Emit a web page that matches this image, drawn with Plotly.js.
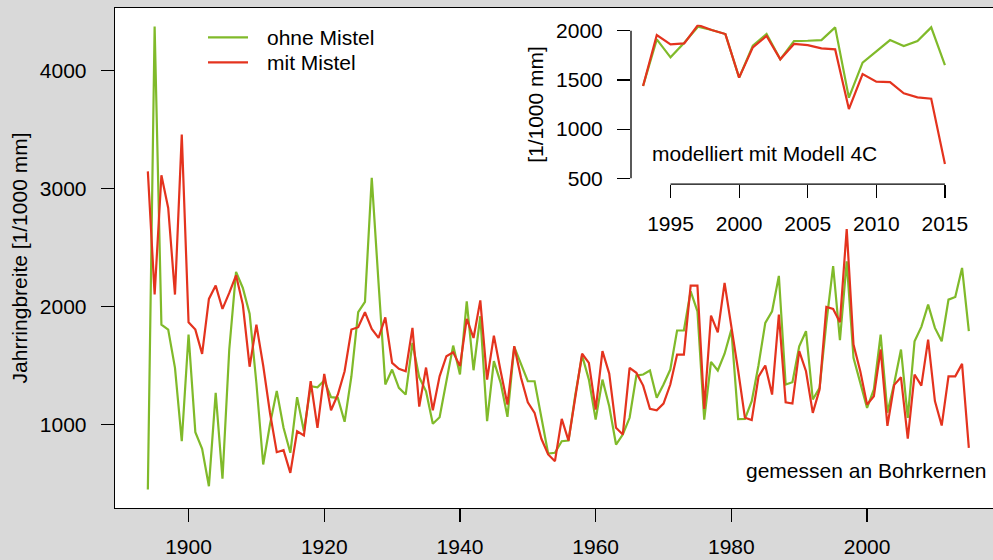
<!DOCTYPE html>
<html>
<head>
<meta charset="utf-8">
<script src="https://cdn.plot.ly/plotly-3.0.1.min.js"></script>
<style>html,body{margin:0;padding:0;background:#d9d9d9;}#chart{width:993px;height:560px;}</style>
</head>
<body>
<div id="chart"></div>
<script>
// ---- data: measured (Bohrkerne) ----
const years = [1894,1895,1896,1897,1898,1899,1900,1901,1902,1903,
1904,1905,1906,1907,1908,1909,1910,1911,1912,1913,
1914,1915,1916,1917,1918,1919,1920,1921,1922,1923,
1924,1925,1926,1927,1928,1929,1930,1931,1932,1933,
1934,1935,1936,1937,1938,1939,1940,1941,1942,1943,
1944,1945,1946,1947,1948,1949,1950,1951,1952,1953,
1954,1955,1956,1957,1958,1959,1960,1961,1962,1963,
1964,1965,1966,1967,1968,1969,1970,1971,1972,1973,
1974,1975,1976,1977,1978,1979,1980,1981,1982,1983,
1984,1985,1986,1987,1988,1989,1990,1991,1992,1993,
1994,1995,1996,1997,1998,1999,2000,2001,2002,2003,
2004,2005,2006,2007,2008,2009,2010,2011,2012,2013,
2014,2015];
const ohneMistel = [449,4375,1847,1805,1480,858,1763,935,794,477,
1268,540,1636,2294,2158,1940,1350,661,1000,1285,
972,760,1232,943,1325,1316,1373,1232,1226,1023,
1409,1952,2040,3091,2200,1339,1466,1311,1254,1692,
1400,1282,1006,1062,1367,1669,1424,2045,1460,1918,
1028,1537,1353,1065,1658,1508,1367,1367,1057,754,
760,858,864,1250,1585,1381,1042,1381,1155,830,
915,1057,1415,1424,1458,1226,1339,1466,1797,1797,
2130,1960,1042,1531,1458,1600,1805,1045,1048,1198,
1503,1862,1960,2260,1339,1359,1664,1791,1212,1311,
1862,2343,1715,2384,1565,1353,1141,1297,1763,1100,
1350,1636,1057,1706,1828,2017,1819,1706,2059,2082,
2328,1791];
const mitMistel = [3147,2102,3113,2836,2102,3458,1867,1805,1599,2065,
2178,1980,2116,2265,2017,1490,1847,1500,1100,765,
782,590,943,907,1367,972,1429,1121,1254,1452,
1805,1825,1952,1811,1734,1909,1522,1472,1452,1819,
1152,1483,1121,1409,1579,1613,1495,1896,1734,2053,
1381,1754,1452,1169,1664,1396,1189,1099,879,746,
689,1048,864,1250,1600,1522,1127,1622,1432,972,
915,1480,1438,1330,1133,1121,1178,1339,1593,1593,
2178,2178,1133,1924,1782,2201,1845,1458,1057,1037,
1405,1500,1254,1932,1189,1178,1622,1452,1099,1297,
1997,1980,1867,2658,1678,1452,1169,1240,1636,988,
1336,1400,880,1424,1330,1720,1198,991,1409,1409,
1514,802];

// ---- data: modelled (4C) ----
const modelYears = [1993,1994,1995,1996,1997,1998,1999,2000,2001,2002,2003,2004,
2005,2006,2007,2008,2009,2010,2011,2012,2013,2014,2015];
const modelOhne = [1438,1912,1729,1878,2040,2007,1966,1523,1848,1966,1709,1895,
1898,1905,2034,1319,1675,1793,1905,1844,1895,2034,1651];
const modelMit = [1438,1956,1861,1871,2058,2007,1966,1523,1831,1946,1709,1865,
1854,1821,1810,1204,1560,1482,1478,1363,1323,1309,646];

// ---- ticks & labels ----
const mainXTicks = [1900,1920,1940,1960,1980,2000];
const mainYTicks = [1000,2000,3000,4000];
const insetXTicks = [1995,2000,2005,2010,2015];
const insetYTicks = [500,1000,1500,2000];
const seriesNames = ['ohne Mistel','mit Mistel'];

const GREEN = '#80BA2A';
const RED = '#E4331E';
const FONT = 'Liberation Sans, Arial, Helvetica, sans-serif';

const traces = [
  {x: years, y: ohneMistel, type:'scatter', mode:'lines', name: seriesNames[0],
   line:{color:GREEN, width:2.2}, xaxis:'x', yaxis:'y'},
  {x: years, y: mitMistel, type:'scatter', mode:'lines', name: seriesNames[1],
   line:{color:RED, width:2.2}, xaxis:'x', yaxis:'y'},
  {x: modelYears, y: modelOhne, type:'scatter', mode:'lines', name: seriesNames[0],
   line:{color:GREEN, width:2.2}, xaxis:'x2', yaxis:'y2'},
  {x: modelYears, y: modelMit, type:'scatter', mode:'lines', name: seriesNames[1],
   line:{color:RED, width:2.2}, xaxis:'x2', yaxis:'y2'}
];

const axCommon = {
  ticks:'outside', ticklen:13, tickwidth:1.2, tickcolor:'#000',
  showgrid:false, zeroline:false, tickfont:{family:FONT, size:21, color:'#000'}
};

// paper helpers (plot area: x 115..993, y 8..508)
const px = v => (v - 115) / 878;
const py = v => 1 - (v - 8) / 500;

const layout = {
  width:993, height:560,
  paper_bgcolor:'#d9d9d9', plot_bgcolor:'#ffffff',
  margin:{l:115, r:0, t:8, b:52, pad:0},
  showlegend:false,
  font:{family:FONT, size:21, color:'#000'},
  xaxis: Object.assign({}, axCommon, {
    domain:[0,1], range:[1889.16, 2018.56], tickmode:'array', tickvals:mainXTicks,
    showline:true, linecolor:'#000', linewidth:1.3, mirror:true, ticklabelstandoff:6
  }),
  yaxis: Object.assign({}, axCommon, {
    domain:[0,1], range:[292, 4532], tickmode:'array', tickvals:mainYTicks,
    showline:true, linecolor:'#000', linewidth:1.3, mirror:false, ticklabelstandoff:10,
    title:{text:'Jahrringbreite [1/1000 mm]', standoff:6, font:{family:FONT, size:21, color:'#000'}}
  }),
  xaxis2: Object.assign({}, axCommon, {
    anchor:'y2', domain:[px(631), px(957)], range:[1992.12, 2015.88],
    tickmode:'array', tickvals:insetXTicks, showline:false, ticklabelstandoff:8
  }),
  yaxis2: Object.assign({}, axCommon, {
    anchor:'x2', domain:[py(184.2), py(24.8)], range:[440, 2060],
    tickmode:'array', tickvals:insetYTicks, showline:false, ticklabelstandoff:10,
    title:{text:'[1/1000 mm]', standoff:6, font:{family:FONT, size:21, color:'#000'}}
  }),
  shapes:[
    // inset axis lines (R style: from first to last tick)
    {type:'line', xref:'x2', yref:'y2 domain', x0:1995, x1:2015, y0:0, y1:0, line:{color:'#000', width:1.3}},
    {type:'line', xref:'x2 domain', yref:'y2', x0:0, x1:0, y0:500, y1:2000, line:{color:'#000', width:1.3}},
    // legend keys
    {type:'line', xref:'paper', yref:'paper', x0:px(208), x1:px(248), y0:py(37.3), y1:py(37.3), line:{color:GREEN, width:2.2}},
    {type:'line', xref:'paper', yref:'paper', x0:px(208), x1:px(248), y0:py(62.3), y1:py(62.3), line:{color:RED, width:2.2}}
  ],
  annotations:[
    {xref:'paper', yref:'paper', x:px(265), y:py(37.3), xanchor:'left', yanchor:'middle', text:seriesNames[0], showarrow:false, font:{family:FONT, size:21, color:'#000'}},
    {xref:'paper', yref:'paper', x:px(265), y:py(62.3), xanchor:'left', yanchor:'middle', text:seriesNames[1], showarrow:false, font:{family:FONT, size:21, color:'#000'}},
    {xref:'paper', yref:'paper', x:px(650), y:py(153), xanchor:'left', yanchor:'middle', text:'modelliert mit Modell 4C', showarrow:false, font:{family:FONT, size:21, color:'#000'}},
    {xref:'paper', yref:'paper', x:px(744), y:py(470), xanchor:'left', yanchor:'middle', text:'gemessen an Bohrkernen', showarrow:false, font:{family:FONT, size:21, color:'#000'}}
  ]
};

Plotly.newPlot('chart', traces, layout, {staticPlot:true, displayModeBar:false});
</script>
</body>
</html>
